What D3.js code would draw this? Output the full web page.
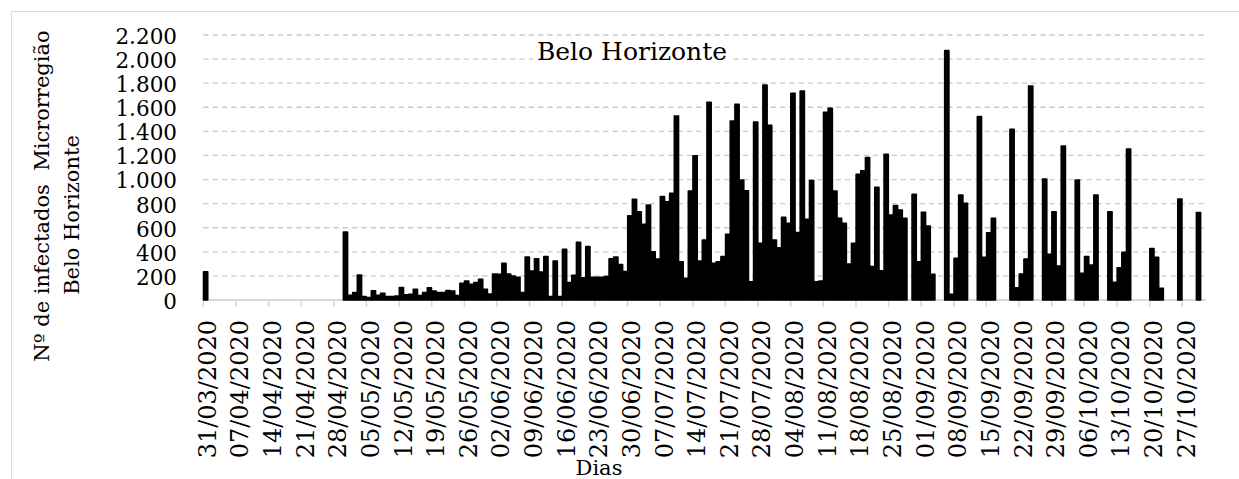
<!DOCTYPE html>
<html>
<head>
<meta charset="utf-8">
<script src="https://cdnjs.cloudflare.com/ajax/libs/d3/7.8.5/d3.min.js"></script>
<style>
  body { margin: 0; background: #fff; }
  svg { font-family: "DejaVu Serif", serif; }
</style>
</head>
<body>
<svg class="chart"></svg>
<script>
// dias 31/03/2020 .. 31/10/2020, um valor por dia (null = sem registro)
var firstDay = new Date(2020, 2, 31)
var lastDay = new Date(2020, 9, 31)

var infectados = [
  235, null, null, null, null, null, null, null, null, null,
  null, null, null, null, null, null, null, null, null, null,
  null, null, null, null, null, null, null, null, null, null,
  564, 39, 61, 207, 28, 20, 77, 39, 56, 28,
  28, 33, 103, 44, 47, 89, 36, 61, 102, 75,
  61, 61, 78, 75, 36, 138, 158, 130, 144, 172,
  89, 50, 215, 213, 304, 215, 199, 188, 61, 357,
  241, 343, 232, 360, 28, 324, 28, 420, 144, 205,
  479, 185, 443, 188, 188, 188, 194, 342, 357, 295,
  236, 700, 836, 733, 628, 788, 401, 340, 858, 816,
  886, 1527, 318, 180, 905, 1198, 324, 498, 1641, 304,
  318, 360, 545, 1486, 1624, 996, 907, 152, 1478, 470,
  1785, 1450, 498, 434, 686, 636, 1715, 561, 1735, 669,
  992, 152, 158, 1558, 1591, 905, 678, 636, 299, 470,
  1043, 1073, 1182, 277, 935, 243, 1209, 706, 784, 747,
  678, null, 877, 318, 728, 614, 213, null, null, 2070,
  47, 346, 871, 802, null, null, 1522, 354, 558, 678,
  null, null, null, 1417, 102, 216, 340, 1776, null, null,
  1004, 379, 733, 282, 1278, null, null, 996, 221, 360,
  290, 871, null, null, 733, 147, 268, 396, 1253, null,
  null, null, null, 428, 354, 97, null, null, null, 838,
  null, null, null, 725, null
]

var yTicks = [0, 200, 400, 600, 800, 1000, 1200, 1400, 1600, 1800, 2000, 2200]

var xTickLabels = ["31/03/2020", "07/04/2020", "14/04/2020", "21/04/2020", "28/04/2020",
  "05/05/2020", "12/05/2020", "19/05/2020", "26/05/2020", "02/06/2020", "09/06/2020",
  "16/06/2020", "23/06/2020", "30/06/2020", "07/07/2020", "14/07/2020", "21/07/2020",
  "28/07/2020", "04/08/2020", "11/08/2020", "18/08/2020", "25/08/2020", "01/09/2020",
  "08/09/2020", "15/09/2020", "22/09/2020", "29/09/2020", "06/10/2020", "13/10/2020",
  "20/10/2020", "27/10/2020"]

var chartTitle = "Belo Horizonte"
var yTitle = ["Nº de infectados  Microrregião", "Belo Horizonte"]
var xTitle = "Dias"

var fmtDay = d3.timeFormat("%d/%m/%Y")
var dias = d3.timeDay.range(firstDay, d3.timeDay.offset(lastDay, 1)).map(fmtDay)

var data = dias.map((d, i) => ({ dia: d, valor: infectados[i] }))

var ptBR = d3.formatLocale({ decimal: ",", thousands: ".", grouping: [3], currency: ["R$", ""] })
var fmtNum = ptBR.format(",")

var svg = d3.select('.chart')
            .attr('width', 1239)
            .attr('height', 479)

// moldura do gráfico
svg.append('rect')
   .attr('x', 11.5)
   .attr('y', 11.5)
   .attr('width', 1260)
   .attr('height', 500)
   .attr('fill', 'none')
   .attr('stroke', '#d9d9d9')
   .attr('stroke-width', 1)

var xScale = d3.scaleBand()
               .domain(dias)
               .range([203.3, 1205.5])
               .padding(0)

var yScale = d3.scaleLinear()
               .domain([0, 2200])
               .range([300, 35])

var bw = xScale.bandwidth()

// linhas de grade
svg.append('g')
   .selectAll('line')
   .data(yTicks.filter(v => v > 0))
   .enter()
   .append('line')
   .attr('x1', 203.3)
   .attr('x2', 1205.5)
   .attr('y1', d => yScale(d))
   .attr('y2', d => yScale(d))
   .attr('stroke', '#c9c9c9')
   .attr('stroke-width', 1.3)
   .attr('stroke-dasharray', '5.3,4')

// eixo y
var yAxis = d3.axisLeft(yScale).tickValues(yTicks).tickSize(0).tickPadding(0).tickFormat(fmtNum)
var gy = svg.append('g')
            .attr('transform', 'translate(177,1.5)')
            .call(yAxis)
gy.select('.domain').remove()
gy.selectAll('text')
  .attr('font-family', '"DejaVu Serif", serif')
  .attr('font-size', 21.5)
  .attr('fill', '#000')

// eixo x
var xAxis = d3.axisBottom(xScale).tickValues(xTickLabels).tickSize(7).tickPadding(0)
var gx = svg.append('g')
            .attr('transform', 'translate(0,300)')
            .call(xAxis)
gx.select('.domain')
  .attr('stroke', '#d9d9d9')
  .attr('stroke-width', 1.8)
  .attr('d', 'M203.3,0H1205.5')
gx.selectAll('.tick line')
  .attr('stroke', '#d9d9d9')
  .attr('stroke-width', 1.5)
  .attr('x1', -bw / 2)
  .attr('x2', -bw / 2)
gx.selectAll('text')
  .attr('font-family', '"DejaVu Serif", serif')
  .attr('font-size', 24)
  .attr('fill', '#000')
  .attr('transform', 'rotate(-90)')
  .attr('x', -20)
  .attr('y', 1.5)
  .attr('dy', '0.36em')
  .style('text-anchor', 'end')

// barras
svg.append('g')
   .selectAll('rect')
   .data(data.filter(d => d.valor != null))
   .enter()
   .append('rect')
   .attr('x', d => xScale(d.dia) + bw / 2 - 2.1)
   .attr('y', d => yScale(d.valor))
   .attr('width', 4.2)
   .attr('height', d => 300 - yScale(d.valor))
   .attr('fill', '#000')
   .attr('stroke', '#000')
   .attr('stroke-width', 1.6)
   .attr('stroke-linejoin', 'round')

// título com fundo branco
var tg = svg.append('g')
var title = tg.append('text')
   .attr('x', 632)
   .attr('y', 60)
   .attr('text-anchor', 'middle')
   .attr('font-size', 25)
   .text(chartTitle)
var tb = title.node().getBBox()
tg.insert('rect', 'text')
   .attr('x', tb.x - 4)
   .attr('y', tb.y)
   .attr('width', tb.width + 8)
   .attr('height', tb.height)
   .attr('fill', '#fff')

// títulos dos eixos
svg.append('text')
   .attr('transform', 'translate(49,196) rotate(-90)')
   .attr('text-anchor', 'middle')
   .attr('font-size', 21)
   .style('white-space', 'pre')
   .text(yTitle[0])
svg.append('text')
   .attr('transform', 'translate(79,215) rotate(-90)')
   .attr('text-anchor', 'middle')
   .attr('font-size', 21)
   .text(yTitle[1])

svg.append('text')
   .attr('x', 599)
   .attr('y', 475)
   .attr('text-anchor', 'middle')
   .attr('font-size', 21)
   .text(xTitle)
</script>
</body>
</html>
